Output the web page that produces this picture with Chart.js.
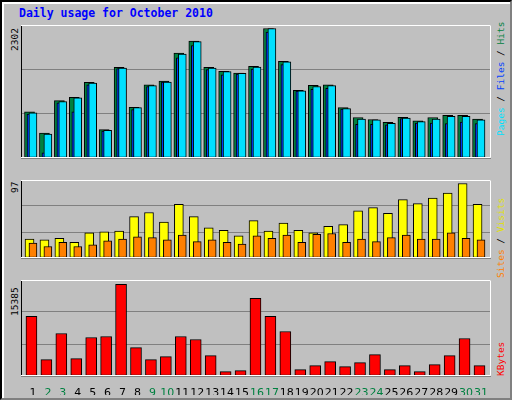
<!DOCTYPE html>
<html><head><meta charset="utf-8">
<script src="https://cdn.jsdelivr.net/npm/chart.js@4"></script>
<style>
body{margin:0;background:#fff}
#frame{position:absolute;left:0;top:0;width:508px;height:396px;background:#c0c0c0;border:2px solid #000;border-right-color:#808080;border-bottom-color:#808080;box-shadow:inset 2px 2px 0 #fff}
.box{position:absolute;left:21px;width:470px}
.t{position:absolute;font:bold 11.5px "DejaVu Sans Mono",monospace;white-space:nowrap}
.r{transform-origin:0 0;transform:rotate(-90deg);font:9.5px "DejaVu Sans Mono",monospace}
</style></head><body>
<div id="frame"></div>
<div class="t" style="left:19px;top:6px;color:#0000ff">Daily usage for October 2010</div>
<div class="t r" style="left:9px;top:51px">2302</div>
<div class="t r" style="left:9px;top:193px">97</div>
<div class="t r" style="left:9px;top:316px">15385</div>
<div class="t r" style="left:495px;top:136px"><span style="color:#00e0ff">Pages</span> / <span style="color:#0040ff">Files</span> / <span style="color:#008040">Hits</span></div>
<div class="t r" style="left:495px;top:278px"><span style="color:#ff8000">Sites</span> / <span style="color:#e0e000">Visits</span></div>
<div class="t r" style="left:495px;top:376px;color:#ff0000">KBytes</div>
<div class="box" style="top:25px;height:152px"><canvas id="c1"></canvas></div>
<div class="box" style="top:180px;height:97px"><canvas id="c2"></canvas></div>
<div class="box" style="top:280px;height:115px"><canvas id="c3"></canvas></div>
<script>
const days = Array.from({length: 31}, (_, i) => i + 1);
const weekend = [2, 3, 9, 10, 16, 17, 23, 24, 30, 31];
const hits = [820,445,1020,1080,1345,505,1610,900,1300,1365,1865,2080,1610,1540,1510,1630,2302,1720,1205,1290,1300,895,720,685,635,725,660,720,760,760,690];
const files = [780,90,980,820,1300,480,1590,860,1270,1350,1780,2000,1570,1480,1490,1580,2240,1660,1190,1220,1240,870,600,600,590,700,620,620,610,640,610];
const pages = [802,427,1005,1068,1333,490,1599,896,1286,1349,1849,2068,1599,1536,1505,1615,2302,1708,1193,1271,1286,880,693,677,615,708,646,693,740,740,677];
const visits = [24.5,23.5,25.6,20.3,32.9,34,35,53.9,59.2,46.6,69.7,53.9,39.2,36,28.7,48.7,35,45.5,36,32.9,41.3,43.4,61.3,65.5,58.1,76,70.7,78,84.4,97,69.7];
const sites = [19.3,15,20.3,15,17.2,22.4,24.5,27.7,26.6,23.5,29.8,21.4,23.5,20.3,18.2,28.7,25.6,29.8,20.3,30.8,31.9,20.3,24.5,21.4,26.6,29.8,24.5,24.5,32.9,25.6,23.5];
const kbytes = [9995,2751,7131,2920,6457,6626,15385,4773,2751,3257,6626,6120,3425,730,898,13027,9995,7468,1067,1741,2414,1572,2246,3594,1067,1741,730,1909,3425,6289,1741];

const frame = {
  id: 'frame',
  afterDraw(chart) {
    const a = chart.chartArea, c = chart.ctx;
    c.save(); c.lineWidth = 1;
    c.strokeStyle = '#000';
    c.beginPath(); c.moveTo(a.left + 0.5, a.bottom); c.lineTo(a.left + 0.5, a.top + 0.5); c.stroke();
    c.strokeStyle = '#fff';
    c.beginPath(); c.moveTo(a.left, a.top + 0.5); c.lineTo(a.right - 0.5, a.top + 0.5); c.lineTo(a.right - 0.5, a.bottom - 0.5); c.lineTo(a.left, a.bottom - 0.5); c.stroke();
    c.restore();
  }
};

// first dataset in the list is drawn on top
function ds(vals, color, off, w) {
  return {data: vals.map((v, i) => ({x: days[i] + off, y: v})), backgroundColor: color,
    borderColor: '#000', borderWidth: 1, borderSkipped: false, barThickness: w, grouped: false};
}

function make(id, sets, max, showX) {
  new Chart(document.getElementById(id), {
    type: 'bar',
    data: {datasets: sets},
    plugins: [frame],
    options: {
      responsive: true, maintainAspectRatio: false, animation: false,
      layout: {padding: 0},
      plugins: {legend: {display: false}, tooltip: {enabled: false}},
      scales: {
        x: {type: 'linear', min: 0.2, max: 31.67, offset: false, display: showX,
          grid: {display: false}, border: {display: false},
          afterBuildTicks: s => { s.ticks = days.map(d => ({value: d})); },
          afterFit: s => { s.height = 19; },
          ticks: {autoSkip: false, maxRotation: 0, padding: 3,
            font: {family: 'DejaVu Sans', size: 11},
            color: c => weekend.includes(c.tick.value) ? '#008040' : '#000',
            callback: v => v}},
        y: {min: 0, max: max, afterFit: s => { s.width = 0; },
          ticks: {display: false, stepSize: max / 3},
          grid: {color: '#808080', drawTicks: false}, border: {display: false}}
      }
    }
  });
}

make('c1', [ds(pages, '#00e0ff', 0, 8), ds(files, '#0040ff', -0.13, 8), ds(hits, '#008040', -0.23, 10)], 2364, false);
make('c2', [ds(sites, '#ff8000', 0, 8), ds(visits, '#ffff00', -0.23, 9)], 101.5, false);
make('c3', [ds(kbytes, '#ff0000', -0.1, 11)], 16106, true);
</script></body></html>
